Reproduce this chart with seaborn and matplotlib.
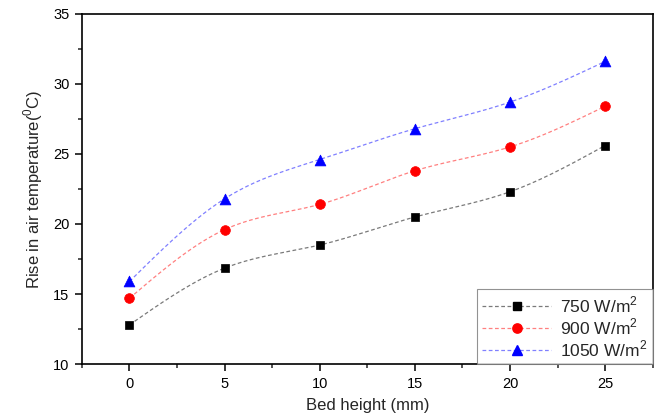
import numpy as np
import pandas as pd
import matplotlib
matplotlib.use("Agg")
import matplotlib.pyplot as plt
from matplotlib.lines import Line2D
from matplotlib.ticker import MultipleLocator
import seaborn as sns

# data
bed_height = [0, 5, 10, 15, 20, 25]
rise_750 = [12.8, 16.85, 18.5, 20.5, 22.3, 25.6]
rise_900 = [14.7, 19.6, 21.4, 23.8, 25.5, 28.4]
rise_1050 = [15.9, 21.8, 24.6, 26.8, 28.7, 31.6]
series_labels = ["750 W/m$^2$", "900 W/m$^2$", "1050 W/m$^2$"]

sns.set_theme(style="ticks")
plt.rcParams['font.family'] = ['Liberation Sans', 'DejaVu Sans']
plt.rcParams['mathtext.fontset'] = 'custom'
plt.rcParams['mathtext.rm'] = 'Liberation Sans'


def natural_spline(x, y, xs):
    # smooth line through the measured points (like Origin's spline connect)
    x = np.asarray(x, float)
    y = np.asarray(y, float)
    n = len(x)
    h = np.diff(x)
    A = np.zeros((n, n))
    b = np.zeros(n)
    A[0, 0] = A[-1, -1] = 1
    for i in range(1, n - 1):
        A[i, i - 1] = h[i - 1]
        A[i, i] = 2 * (h[i - 1] + h[i])
        A[i, i + 1] = h[i]
        b[i] = 6 * ((y[i + 1] - y[i]) / h[i] - (y[i] - y[i - 1]) / h[i - 1])
    M = np.linalg.solve(A, b)
    idx = np.clip(np.searchsorted(x, xs) - 1, 0, n - 2)
    x0, x1 = x[idx], x[idx + 1]
    hh = x1 - x0
    t0, t1 = x1 - xs, xs - x0
    return (M[idx] * t0**3 / (6 * hh) + M[idx + 1] * t1**3 / (6 * hh)
            + (y[idx] / hh - M[idx] * hh / 6) * t0
            + (y[idx + 1] / hh - M[idx + 1] * hh / 6) * t1)


points = pd.DataFrame({
    "Bed height": bed_height * 3,
    "Rise": rise_750 + rise_900 + rise_1050,
    "Irradiance": sum([[lab] * len(bed_height) for lab in series_labels], []),
})

xs = np.linspace(min(bed_height), max(bed_height), 200)
curves = pd.DataFrame({
    "Bed height": np.tile(xs, 3),
    "Rise": np.concatenate([natural_spline(bed_height, s, xs)
                            for s in (rise_750, rise_900, rise_1050)]),
    "Irradiance": np.repeat(series_labels, len(xs)),
})

marker_colors = {series_labels[0]: "black", series_labels[1]: "red", series_labels[2]: "blue"}
line_colors = {series_labels[0]: "#7a7a7a", series_labels[1]: "#ff8080", series_labels[2]: "#8080ff"}
markers = {series_labels[0]: "s", series_labels[1]: "o", series_labels[2]: "^"}
sizes = {series_labels[0]: 6.0, series_labels[1]: 7.0, series_labels[2]: 7.8}
dash = (0, (3, 2))

fig, ax = plt.subplots(figsize=(6.66, 4.19), dpi=100)
fig.subplots_adjust(left=0.123, right=0.980, bottom=0.131, top=0.967)

# dashed spline curves
sns.lineplot(data=curves, x="Bed height", y="Rise", hue="Irradiance",
             palette=line_colors, linewidth=0.9, legend=False, ax=ax)
for line in ax.lines:
    line.set_linestyle(dash)

# measured points
for lab in series_labels:
    sub = points[points["Irradiance"] == lab]
    sns.scatterplot(data=sub, x="Bed height", y="Rise", marker=markers[lab],
                    color=marker_colors[lab], s=sizes[lab] ** 2,
                    edgecolor=marker_colors[lab], linewidth=0.5,
                    legend=False, ax=ax, zorder=3)

ax.set_xlim(-2.5, 27.5)
ax.set_ylim(10, 35)
ax.xaxis.set_major_locator(MultipleLocator(5))
ax.xaxis.set_minor_locator(MultipleLocator(2.5))
ax.yaxis.set_major_locator(MultipleLocator(5))
ax.yaxis.set_minor_locator(MultipleLocator(2.5))
ax.tick_params(which="major", direction="out", length=5, width=1.1,
               labelsize=10.5, colors="black", pad=4)
ax.tick_params(which="minor", direction="out", length=3, width=1.1)
for sp in ax.spines.values():
    sp.set_linewidth(1.2)
    sp.set_color("black")

ax.set_xlabel("Bed height (mm)", fontsize=12, labelpad=5)
ax.set_ylabel("Rise in air temperature($^0$C)", fontsize=12, labelpad=6)

handles = [Line2D([], [], color=line_colors[lab], linestyle=dash, linewidth=0.9,
                  marker=markers[lab], markersize=sizes[lab] - 0.3,
                  markerfacecolor=marker_colors[lab], markeredgecolor=marker_colors[lab])
           for lab in series_labels]
leg = ax.legend(handles, series_labels, loc="lower right", fontsize=12.5,
                frameon=True, fancybox=False, borderaxespad=0, handlelength=4.0,
                labelspacing=0.08, borderpad=0.3, handletextpad=0.5)
leg.get_frame().set_edgecolor("#777777")
leg.get_frame().set_linewidth(0.8)

fig.savefig("out.png", dpi=100)
